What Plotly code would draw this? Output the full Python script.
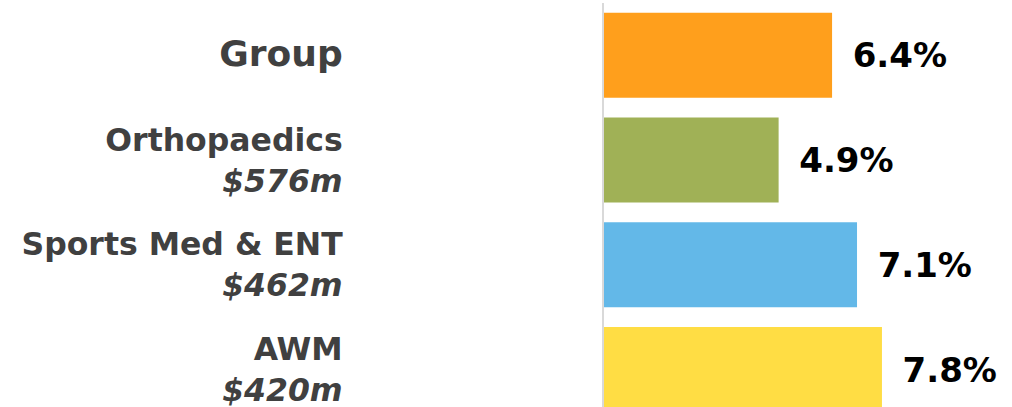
import plotly.graph_objects as go

categories = ["Group", "Orthopaedics", "Sports Med & ENT", "AWM"]
revenues = ["", "$576m", "$462m", "$420m"]
growth = [6.4, 4.9, 7.1, 7.8]
colors = ["#FF9F1C", "#A0B156", "#63B8E8", "#FFDD44"]

ticktext = []
for c, r in zip(categories, revenues):
    if r:
        ticktext.append(f"<b>{c}</b><br><b><i>{r}</i></b>")
    else:
        ticktext.append(f"<span style='font-size:36px'><b>{c}</b></span>")

labels = [f"<b>{v:.1f}%</b>" for v in growth]

fig = go.Figure(go.Bar(
    x=growth,
    y=categories,
    orientation="h",
    marker=dict(color=colors, line=dict(width=0)),
    width=0.812,
    text=["\u2009\u00a0" + t for t in labels],
    textposition="outside",
    constraintext="none",
    cliponaxis=False,
    textfont=dict(family="DejaVu Sans", size=34, color="#000000"),
    hoverinfo="skip",
))

fig.update_layout(
    width=1012, height=407,
    margin=dict(l=604, r=16, t=3, b=0),
    plot_bgcolor="white", paper_bgcolor="white",
    showlegend=False,
    font=dict(family="DejaVu Sans", color="#404040"),
)
fig.update_xaxes(range=[0, 11], showgrid=False, zeroline=False,
                 showticklabels=False, showline=False)
fig.update_yaxes(range=[3.358, -0.5], tickmode="array",
                 tickvals=categories, ticktext=ticktext,
                 tickfont=dict(family="DejaVu Sans", size=31.5, color="#404040"),
                 showgrid=False, zeroline=False,
                 showline=True, linecolor="#D9D9D9", linewidth=2,
                 ticks="", ticklabelstandoff=253)

fig.write_html("out.html",
               config={"displayModeBar": False, "staticPlot": True},
               post_script="document.body.style.margin='0';document.body.style.overflow='hidden';")
